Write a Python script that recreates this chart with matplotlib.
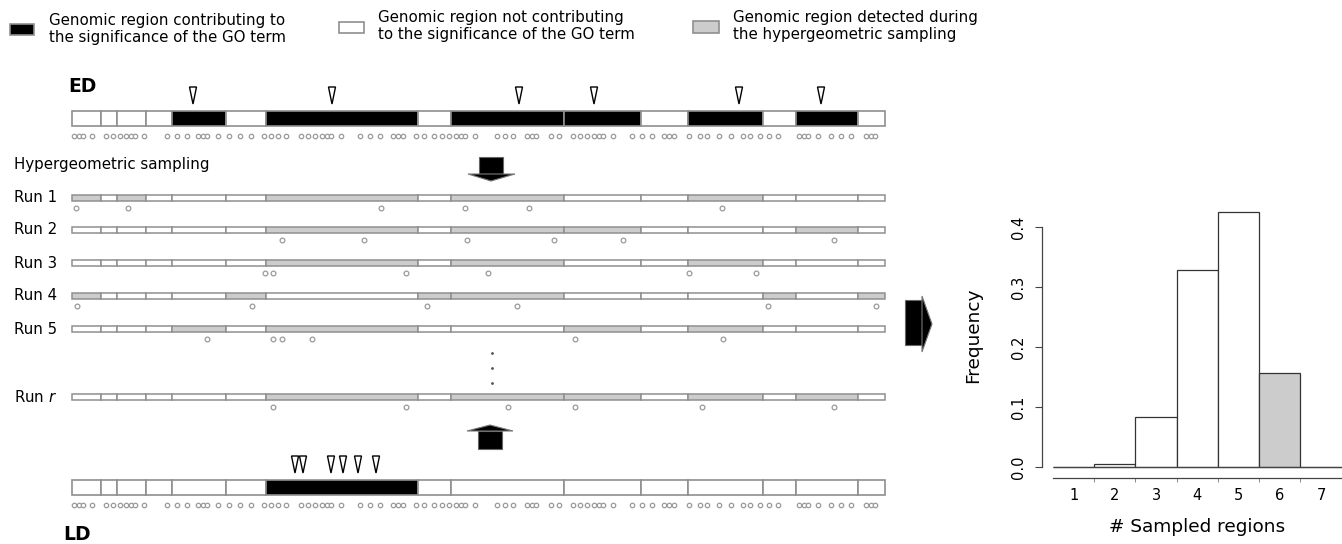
import numpy as np
import matplotlib.pyplot as plt
from matplotlib.patches import Rectangle, Polygon

plt.rcParams['font.family'] = ['DejaVu Sans']
plt.rcParams['mathtext.fontset'] = 'dejavusans'

# genomic regions (boundaries along the sketch's genome axis)
bounds = [72, 101, 117, 146, 172, 226, 266, 418, 451, 564, 641, 688, 763, 796, 858, 885]
ed_contrib = [4, 6, 8, 9, 11, 13]
ld_contrib = [6]
ed_hits = [193, 332, 519, 594, 739, 821]
ld_hits = [295, 303, 331, 343, 358, 376]

snp_x = [74, 78.5, 83, 92,
         106, 113, 120, 126, 130.5, 135, 144,
         167, 177, 187,
         198, 202.5, 207, 218,
         229, 240, 251,
         264, 271, 278, 286,
         301, 308, 315, 322, 326.5, 331, 341,
         360, 370, 380,
         393, 398, 403,
         416, 424,
         434, 442, 449, 456, 460.5, 465, 475,
         497, 505, 513,
         527, 531.5, 536,
         551, 559,
         573, 580, 587, 594, 598.5, 603, 613,
         632, 642, 652,
         664, 669, 674,
         689, 700, 707, 719, 731, 743, 750,
         760, 769, 778,
         799, 803.5, 808, 818,
         831, 841, 851,
         866, 870.5, 875]

run_names = ['Run 1', 'Run 2', 'Run 3', 'Run 4', 'Run 5', 'Run $\\mathit{r}$']
run_y = [198, 230, 263, 296, 329, 397]
run_sampled = [[0, 2, 6, 8, 11],
               [6, 8, 9, 13],
               [6, 8, 11],
               [0, 5, 7, 8, 12, 14],
               [4, 6, 9, 11],
               [6, 8, 9, 11, 13]]
run_snps = [[76, 128, 381, 465, 529, 722],
            [282, 364, 467, 554, 623, 834],
            [265, 273, 406, 488, 689, 756],
            [77, 252, 427, 517, 768, 876],
            [207, 273, 282, 312, 575, 723],
            [273, 406, 508, 575, 702, 834]]

n_regions = [1, 2, 3, 4, 5, 6, 7]
freq = [0.0, 0.005, 0.084, 0.329, 0.425, 0.157, 0.0]
observed = 6

W, H = 1342, 544
fig = plt.figure(figsize=(W / 100, H / 100), dpi=100)
ax = fig.add_axes([0, 0, 1, 1])
ax.set_xlim(0, W)
ax.set_ylim(H, 0)
ax.axis('off')

EDGE = '#8f8f8f'
GRAY = '#cccccc'
TXT = 10.8


def draw_track(y0, h, colors, lw):
    for i in range(len(bounds) - 1):
        ax.add_patch(Rectangle((bounds[i], y0), bounds[i + 1] - bounds[i], h,
                               facecolor=colors[i], edgecolor=EDGE, lw=lw))


def draw_hits(xs, top):
    for x in xs:
        ax.add_patch(Polygon([(x - 3.5, top), (x + 3.5, top), (x, top + 17)],
                             closed=True, facecolor='white', edgecolor='black', lw=1))


def dots(xs, y, ms=3.2):
    ax.plot(xs, [y] * len(xs), 'o', ls='none', ms=ms, mfc='white',
            mec='#9a9a9a', mew=0.9)


nreg = len(bounds) - 1

# legend
ax.add_patch(Rectangle((10, 24), 24, 11, facecolor='black', edgecolor=EDGE, lw=1.2))
ax.text(49, 29, 'Genomic region contributing to\nthe significance of the GO term',
        fontsize=TXT, va='center', ha='left', linespacing=1.15)
ax.add_patch(Rectangle((339, 22), 25, 11, facecolor='white', edgecolor=EDGE, lw=1.2))
ax.text(378, 26, 'Genomic region not contributing\nto the significance of the GO term',
        fontsize=TXT, va='center', ha='left', linespacing=1.15)
ax.add_patch(Rectangle((693, 21), 26, 12, facecolor=GRAY, edgecolor=EDGE, lw=1.2))
ax.text(733, 26, 'Genomic region detected during\nthe hypergeometric sampling',
        fontsize=TXT, va='center', ha='left', linespacing=1.15)

# ED track
ax.text(68, 87, 'ED', fontsize=13.5, fontweight='bold', va='center', ha='left')
draw_track(111, 15, ['black' if i in ed_contrib else 'white' for i in range(nreg)], 1.2)
draw_hits(ed_hits, 87)
dots(snp_x, 136)

ax.text(14, 165, 'Hypergeometric sampling', fontsize=TXT, va='center', ha='left')

# sampling runs
for name, y, sampled, hits in zip(run_names, run_y, run_sampled, run_snps):
    ax.text(14, y, name, fontsize=TXT, va='center', ha='left')
    draw_track(y - 3.2, 6.4, [GRAY if i in sampled else 'white' for i in range(nreg)], 1.1)
    dots(hits, y + 10, ms=3.4)

ax.plot([492, 492, 492], [353, 368, 383], '.', color='#555555', ms=2)

# LD track
draw_track(480, 15, ['black' if i in ld_contrib else 'white' for i in range(nreg)], 1.2)
draw_hits(ld_hits, 456)
dots(snp_x, 505)
ax.text(63, 535, 'LD', fontsize=13.5, fontweight='bold', va='center', ha='left')

# block arrows
ax.add_patch(Rectangle((479, 157), 24, 17, facecolor='black', edgecolor='#666666', lw=0.8))
ax.add_patch(Polygon([(468, 174), (515, 174), (491, 181)], facecolor='black',
                     edgecolor='#777777', lw=0.8))
ax.add_patch(Rectangle((478, 431), 24, 18, facecolor='black', edgecolor='#666666', lw=0.8))
ax.add_patch(Polygon([(467, 431), (513, 431), (490, 425)], facecolor='black',
                     edgecolor='#777777', lw=0.8))
ax.add_patch(Rectangle((905, 300), 18, 45, facecolor='black', edgecolor='#666666', lw=0.8))
ax.add_patch(Polygon([(922, 296), (922, 352), (932, 324)], facecolor='black',
                     edgecolor='#777777', lw=0.8))

# histogram of sampled regions
hx = fig.add_axes([1041.7 / W, (H - 478.3) / H, (W - 1041.7) / W, 275 / H])
hx.patch.set_alpha(0)
bar_colors = [GRAY if n == observed else 'white' for n in n_regions]
hx.bar(n_regions, freq, width=1, color=bar_colors, edgecolor='#333333', lw=0.9)
hx.hlines(0, 0.5, 7.51, color='#444444', lw=0.9)
hx.set_xlim(0.226, 7.51)
hx.set_ylim(-0.0183, 0.44)
for s in ['top', 'right']:
    hx.spines[s].set_visible(False)
hx.spines['left'].set_bounds(0, 0.4)
hx.spines['bottom'].set_bounds(0.5, 7.51)
for s in ['left', 'bottom']:
    hx.spines[s].set_color('#444444')
    hx.spines[s].set_linewidth(0.9)

hx.set_yticks([0, 0.1, 0.2, 0.3, 0.4])
hx.set_yticklabels(['0.0', '0.1', '0.2', '0.3', '0.4'])
hx.tick_params(axis='y', length=5, width=0.8, color='#444444', pad=6,
               labelsize=10.5, labelrotation=90)
for lab in hx.get_yticklabels():
    lab.set_va('center')

hx.set_xticks(n_regions)
hx.set_xticks([1.5, 2.5, 3.5, 4.5, 5.5, 6.5], minor=True)
hx.tick_params(axis='x', which='major', length=0, pad=7, labelsize=10.5)
hx.tick_params(axis='x', which='minor', length=3, width=0.6, color='#777777')

hx.set_ylabel('Frequency', fontsize=13.3)
hx.yaxis.set_label_coords(-0.2, 0.521)
hx.set_xlabel('# Sampled regions', fontsize=13.3)
hx.xaxis.set_label_coords(0.516, -0.145)

fig.savefig('out.png', dpi=100)
